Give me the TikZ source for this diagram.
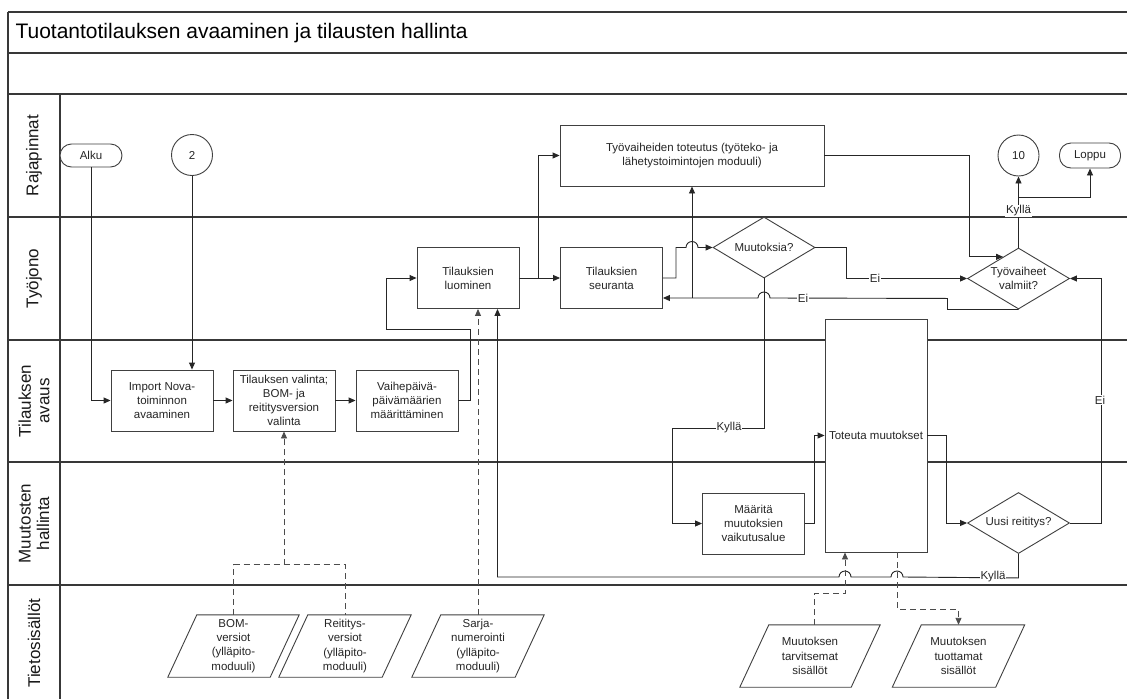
\documentclass[tikz,border=0pt]{standalone}
\usepackage{fontspec}
\setmainfont{Liberation Sans}
\usetikzlibrary{arrows.meta,calc,shapes.geometric}

\begin{document}
\begin{tikzpicture}[x=1pt,y=-1pt,
  txt/.style={font=\fontsize{11.5}{13.8}\selectfont, align=center, text=black!85},
  boxline/.style={draw=black!75, line width=0.9pt},
  procbox/.style={txt, boxline, rectangle, fill=white, inner sep=0pt,
    minimum width=102pt, minimum height=61pt},
  decision/.style={txt, boxline, diamond, fill=white, inner sep=0pt, aspect=1.67,
    minimum width=102pt, minimum height=61pt},
  term/.style={txt, boxline, rectangle, rounded corners=11.5pt, fill=white, inner sep=0pt},
  conncircle/.style={txt, boxline, circle, fill=white, inner sep=0pt, minimum size=41pt},
  datanode/.style={txt, rectangle, inner sep=0pt, minimum height=62pt,
    font=\fontsize{11.5}{14.2}\selectfont},
  laneline/.style={draw=black!78, line width=1.3pt},
  lanelabel/.style={rotate=90, align=center, text=black!90,
    font=\fontsize{17}{18.5}\selectfont},
  conn/.style={draw=black!85, line width=0.9pt, -{Triangle[length=7pt,width=6pt]}},
  dline/.style={draw=black!70, line width=0.9pt, dash pattern=on 6pt off 4pt},
  dconn/.style={dline, -{Triangle[length=7pt,width=6pt]}},
  lbl/.style={txt, fill=white, inner sep=1pt}
]
\fill[white] (0,0) rectangle (1127,699);
\useasboundingbox (0,0) rectangle (1127,699);

% swimlane frame
\draw[laneline] (8,12) -- (1127,12);
\draw[laneline] (8,53) -- (1127,53);
\draw[laneline] (8,94) -- (1127,94);
\draw[laneline] (8,217) -- (1127,217);
\draw[laneline] (8,340) -- (1127,340);
\draw[laneline] (8,462) -- (1127,462);
\draw[laneline] (8,585) -- (1127,585);
\draw[laneline] (8,12) -- (8,699);
\draw[laneline] (60,94) -- (60,699);

\node[anchor=west, font=\fontsize{21}{25}\selectfont] (title) at (12,33)
  {Tuotantotilauksen avaaminen ja tilausten hallinta};

\node[lanelabel] (lane1) at (34,155.5) {Rajapinnat};
\node[lanelabel] (lane2) at (34,278.5) {Työjono};
\node[lanelabel] (lane3) at (34,401) {Tilauksen\\avaus};
\node[lanelabel] (lane4) at (34,523.5) {Muutosten\\hallinta};
\node[lanelabel] (lane5) at (34,643) {Tietosisällöt};

% process steps
\node[term, minimum width=62pt, minimum height=23pt] (alku) at (91,155.5) {Alku};
\node[conncircle] (c2) at (192,155) {2};
\node[conncircle] (c10) at (1018.5,155.5) {10};
\node[term, minimum width=61pt, minimum height=25pt] (loppu) at (1090,155.5) {Loppu};
\node[procbox, minimum width=264pt] (tt) at (692,155.5)
  {Työvaiheiden toteutus (työteko- ja\\lähetystoimintojen moduuli)};
\node[procbox] (luo) at (468,278) {Tilauksien\\luominen};
\node[procbox] (seur) at (611.5,278) {Tilauksien\\seuranta};
\node[decision] (muut) at (764,247.5) {Muutoksia?};
\node[decision] (tvv) at (1018.5,278.5) {Työvaiheet\\valmiit?};
\node[procbox] (imp) at (162,400.5) {Import Nova-\\toiminnon\\avaaminen};
\node[procbox] (val) at (284,400.5) {Tilauksen valinta;\\BOM- ja\\reititysversion\\valinta};
\node[procbox] (vaihe) at (407,400.5) {Vaihepäivä-\\päivämäärien\\määrittäminen};
\node[procbox, minimum height=233pt] (tot) at (876,435.5) {Toteuta muutokset};
\node[procbox] (maar) at (753.5,523.5) {Määritä\\muutoksien\\vaikutusalue};
\node[decision] (uusi) at (1018.5,523) {Uusi reititys?};

% data stores (parallelograms)
\node[datanode, minimum width=131pt] (bom) at (233.5,646) {BOM-\\versiot\\(ylläpito-\\moduuli)};
\node[datanode, minimum width=132pt] (reit) at (345,646) {Reititys-\\versiot\\(ylläpito-\\moduuli)};
\node[datanode, minimum width=132pt] (sarja) at (478,646) {Sarja-\\numerointi\\(ylläpito-\\moduuli)};
\node[datanode, minimum width=140pt] (tarv) at (810,656) {Muutoksen\\tarvitsemat\\sisällöt};
\node[datanode, minimum width=132pt] (tuot) at (958.5,656) {Muutoksen\\tuottamat\\sisällöt};
\foreach \n in {bom,reit,sarja,tarv,tuot}
  \draw[boxline] ($(\n.north west)+(29,0)$) -- (\n.north east)
    -- ($(\n.south east)+(-29,0)$) -- (\n.south west) -- cycle;

% control flow
\draw[conn] (alku.south) |- (imp.west);
\draw[conn] (c2.south) -- (c2.south |- imp.north);
\draw[conn] (imp.east) -- (val.west);
\draw[conn] (val.east) -- (vaihe.west);
\draw[conn] (vaihe.east) -- ++(12,0) |- (386,329) |- (luo.west);
\draw[conn] (luo.east) -- (seur.west);
\draw[conn] ($(luo.east)+(19,0)$) |- (tt.west);
\draw[conn] (seur.east) -- ++(13,0) |- (686,247.5)
  arc[start angle=180, end angle=0, radius=6pt] -- (muut.west);
\draw[conn] (muut.east) -- ++(31,0) |- (tvv.west);
\coordinate (tvin) at ($(tvv.west)!0.7!(tvv.north)$);
\draw[conn] (tt.east) -| ([xshift=-34pt]tvin) -- (tvin);
\draw[conn] (tvv.north) -- (c10.south);
\draw[conn] (tvv.north |- 0,197) -| (loppu.south);
\draw[conn] (tvv.south) -- ++(-71,0) -- ++(0,-11) -- (770,298)
  arc[start angle=0, end angle=180, radius=6pt] -- (seur.east |- 0,298);
\draw[conn] (tt.south |- 0,298) -- (tt.south);
\draw[conn] (muut.south) |- (672,428) |- (maar.west);
\draw[conn] (maar.east) -- ++(9,0) |- (tot.west);
\draw[conn] (tot.east) -- ++(19,0) |- (uusi.west);
\draw[conn] (uusi.east) -- ++(31,0) |- (tvv.east);
\draw[conn] (uusi.south) -- ++(0,24) -- (903,577)
  arc[start angle=0, end angle=180, radius=6pt] -- (851,577)
  arc[start angle=0, end angle=180, radius=6pt]
  -| ($(luo.south)+(29.5,0)$);

% information flows
\draw[dline] (bom.north) -- ++(0,-50) -| (reit.north);
\draw[dconn] (val.south |- 0,565) -- (val.south);
\draw[dconn] (sarja.north) -- (sarja.north |- luo.south);
\draw[dconn] ($(tarv.north)+(4,0)$) -- ++(0,-31) -| ($(tot.south)+(-31,0)$);
\draw[dconn] ($(tot.south)+(21,0)$) -- ++(0,57) -| (tuot.north);

% branch labels
\node[lbl] (lkylla1) at (1018.5,211) {Kyllä};
\node[lbl] (lei1) at (875,278.5) {Ei};
\node[lbl] (lei2) at (803,298) {Ei};
\node[lbl] (lkylla2) at (729,428) {Kyllä};
\node[lbl] (lei3) at (1100,400) {Ei};
\node[lbl] (lkylla3) at (993,577) {Kyllä};
\end{tikzpicture}
\end{document}
